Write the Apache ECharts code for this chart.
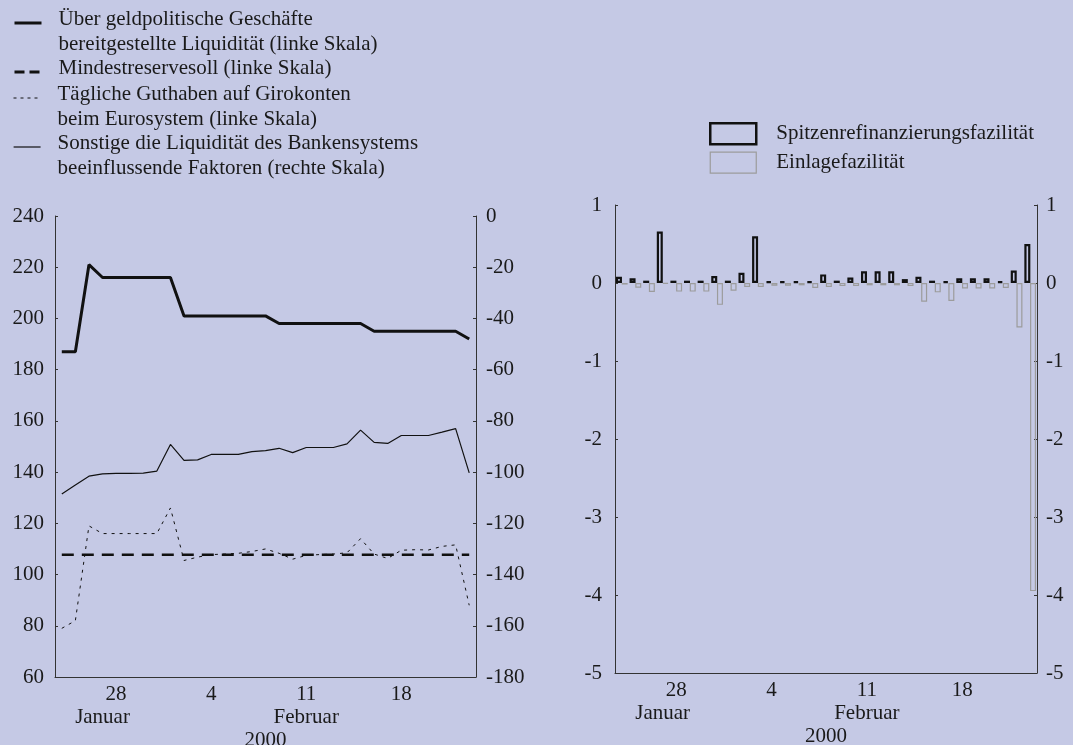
<!DOCTYPE html>
<html>
<head>
<meta charset="utf-8">
<script src="https://cdn.jsdelivr.net/npm/echarts@6/dist/echarts.min.js"></script>
<style>
    html, body { margin: 0; padding: 0; background: #c5c9e5; }
    #chart { width: 1073px; height: 745px; }
</style>
</head>
<body>
<div id="chart"></div>
<script>
// Mindestreserve-Erfüllungsperiode 24. Januar bis 23. Februar 2000
const days = ['24', '25', '26', '27', '28', '29', '30', '31',
    '1', '2', '3', '4', '5', '6', '7', '8', '9', '10', '11', '12', '13', '14', '15', '16',
    '17', '18', '19', '20', '21', '22', '23'];
const shownDays = ['28', '4', '11', '18'];
const monthLabels = ['', '', '', 'Januar', '', '', '', '', '', '', '', '', '', '', '', '', '', '', 'Februar',
    '', '', '', '', '', '', '', '', '', '', '', ''];
const yearLabel = '2000';

// linke Grafik (linke Skala)
const liquiditaet = [187, 187, 221, 216, 216, 216, 216, 216, 216, 201, 201, 201, 201, 201, 201, 201,
    198, 198, 198, 198, 198, 198, 198, 195, 195, 195, 195, 195, 195, 195, 192];
const mindestreserve = [107.7, 107.7, 107.7, 107.7, 107.7, 107.7, 107.7, 107.7, 107.7, 107.7, 107.7,
    107.7, 107.7, 107.7, 107.7, 107.7, 107.7, 107.7, 107.7, 107.7, 107.7, 107.7, 107.7, 107.7, 107.7,
    107.7, 107.7, 107.7, 107.7, 107.7, 107.7];
const guthaben = [79, 82, 119, 116, 116, 116, 116, 116, 126, 105.5, 106.8, 107.8, 108, 108.3, 109, 110,
    108.3, 106, 107.5, 107.8, 108, 108.5, 114, 108, 106.3, 109.5, 109.7, 109.6, 111, 111.6, 88];
// rechte Skala
const sonstige = [-108.5, -105, -101.6, -100.7, -100.5, -100.5, -100.4, -99.6, -89.2, -95.4, -95.2,
    -93.1, -93.1, -93.1, -92, -91.6, -90.7, -92.4, -90.4, -90.4, -90.4, -89, -83.6, -88.4, -88.8,
    -85.7, -85.7, -85.7, -84.4, -83, -100.3];

// rechte Grafik
const spitzen = [0.08, 0.06, 0.03, 0.66, 0.03, 0.03, 0.03, 0.09, 0.03, 0.13, 0.60, 0.02, 0.02, 0.02,
    0.02, 0.11, 0.03, 0.07, 0.15, 0.15, 0.15, 0.05, 0.08, 0.03, 0.02, 0.06, 0.06, 0.06, 0.02, 0.16, 0.50];
const einlage = [-0.02, -0.06, -0.115, -0.01, -0.11, -0.11, -0.11, -0.28, -0.10, -0.05, -0.05, -0.035,
    -0.035, -0.03, -0.065, -0.05, -0.04, -0.04, -0.03, -0.03, -0.03, -0.04, -0.24, -0.12, -0.23,
    -0.07, -0.07, -0.07, -0.065, -0.57, -3.95];

const names = {
    liq: 'Über geldpolitische Geschäfte\nbereitgestellte Liquidität (linke Skala)',
    mr: 'Mindestreservesoll (linke Skala)',
    gut: 'Tägliche Guthaben auf Girokonten\nbeim Eurosystem (linke Skala)',
    son: 'Sonstige die Liquidität des Bankensystems\nbeeinflussende Faktoren (rechte Skala)',
    spitz: 'Spitzenrefinanzierungsfazilität',
    einl: 'Einlagefazilität'
};

const font = 'Liberation Serif, Times New Roman, serif';
const textColor = '#1a1a1a';
const axisColor = '#333';
const fs = 21;
const txt = { fontFamily: font, fontSize: fs, color: textColor };

// the legend icon sits next to the first line of a two-line label
function lineLegend(name, top, lineStyle) {
    return {
        data: [name],
        left: 13,
        top: top,
        orient: 'vertical',
        padding: 0,
        itemWidth: 27,
        itemHeight: 14,
        selectedMode: false,
        itemStyle: { color: 'transparent', borderWidth: 0 },
        lineStyle: lineStyle || {},
        formatter: (n) => {
            const parts = n.split('\n');
            return parts.length > 1 ? `{f|${parts[0]}}\n{s|${parts[1]}}` : `{o|${parts[0]}}`;
        },
        textStyle: {
            ...txt,
            padding: [0, 0, 0, 12],
            rich: {
                f: { ...txt, lineHeight: 42, verticalAlign: 'bottom' },
                s: { ...txt, lineHeight: 29 },
                o: { ...txt, lineHeight: 29, verticalAlign: 'top' }
            }
        }
    };
}

function xAxes(gridIndex) {
    return [
        {
            gridIndex: gridIndex,
            type: 'category',
            data: days,
            boundaryGap: true,
            axisLine: { onZero: false, lineStyle: { color: axisColor, width: 1 } },
            axisTick: { inside: true, length: 4, interval: 0, lineStyle: { color: axisColor } },
            axisLabel: { interval: (i, v) => shownDays.includes(v), margin: 7, ...txt },
            name: yearLabel,
            nameLocation: 'middle',
            nameGap: 53,
            nameTextStyle: txt
        },
        {
            gridIndex: gridIndex,
            type: 'category',
            data: days,
            position: 'bottom',
            offset: 23,
            axisLine: { show: false },
            axisTick: { show: false },
            axisLabel: { interval: 0, formatter: (v, i) => monthLabels[i], margin: 7, ...txt }
        },
        {
            // Monatswechsel
            gridIndex: gridIndex,
            type: 'category',
            data: days,
            position: 'bottom',
            axisLine: { show: false },
            axisLabel: { show: false },
            axisTick: { inside: true, length: 8, interval: (i) => i === 8, lineStyle: { color: axisColor } }
        }
    ];
}

function yAxis(gridIndex, pos, min, max, interval, margin) {
    return {
        gridIndex: gridIndex,
        type: 'value',
        position: pos,
        min: min,
        max: max,
        interval: interval,
        splitLine: { show: false },
        axisLine: { show: true, onZero: false, lineStyle: { color: axisColor, width: 1 } },
        axisTick: { show: true, inside: true, length: 3, lineStyle: { color: axisColor } },
        axisLabel: { margin: margin, ...txt }
    };
}

const chart = echarts.init(document.getElementById('chart'));

chart.setOption({
    animation: false,
    backgroundColor: '#c5c9e5',
    legend: [
        lineLegend(names.liq, 8.5, { width: 3 }),
        lineLegend(names.mr, 57.5, { width: 3, type: [10, 5] }),
        lineLegend(names.gut, 83.5, { width: 1, type: [3, 4] }),
        lineLegend(names.son, 132.5, { width: 1.2 }),
        {
            data: [
                { name: names.spitz, itemStyle: { borderWidth: 2.5 } },
                { name: names.einl, itemStyle: { borderWidth: 1.2 } }
            ],
            left: 709,
            top: 122,
            orient: 'vertical',
            padding: 0,
            itemGap: 6,
            itemWidth: 46,
            itemHeight: 21,
            icon: 'rect',
            selectedMode: false,
            textStyle: { ...txt, padding: [0, 0, 0, 15] }
        }
    ],
    grid: [
        { left: 55, top: 216, width: 421, height: 461, outerBoundsMode: 'none' },
        { left: 615, top: 205, width: 422, height: 468, outerBoundsMode: 'none' }
    ],
    xAxis: [...xAxes(0), ...xAxes(1)],
    yAxis: [
        yAxis(0, 'left', 60, 240, 20, 11),
        yAxis(0, 'right', -180, 0, 20, 10),
        yAxis(1, 'left', -5, 1, 1, 13),
        yAxis(1, 'right', -5, 1, 1, 9)
    ],
    series: [
        {
            name: names.liq, type: 'line', xAxisIndex: 0, yAxisIndex: 0, color: '#111',
            data: liquiditaet, symbol: 'none', silent: true,
            lineStyle: { color: '#111', width: 3 }
        },
        {
            name: names.mr, type: 'line', xAxisIndex: 0, yAxisIndex: 0, color: '#111',
            data: mindestreserve, symbol: 'none', silent: true,
            lineStyle: { color: '#111', width: 2.5, type: [12, 8] }
        },
        {
            name: names.gut, type: 'line', xAxisIndex: 0, yAxisIndex: 0, color: '#111',
            data: guthaben, symbol: 'none', silent: true,
            lineStyle: { color: '#111', width: 1, type: [3, 5] }
        },
        {
            name: names.son, type: 'line', xAxisIndex: 0, yAxisIndex: 1, color: '#111',
            data: sonstige, symbol: 'none', silent: true,
            lineStyle: { color: '#111', width: 1.2 }
        },
        {
            name: names.spitz, type: 'bar', xAxisIndex: 3, yAxisIndex: 2,
            data: spitzen, barWidth: 6, barGap: '-5%', silent: true,
            itemStyle: { color: 'transparent', borderColor: '#111', borderWidth: 2.2 }
        },
        {
            name: names.einl, type: 'bar', xAxisIndex: 3, yAxisIndex: 2,
            data: einlage, barWidth: 6, barGap: '-5%', silent: true,
            itemStyle: { color: 'transparent', borderColor: '#9c9c9c', borderWidth: 1.2 }
        }
    ]
});
</script>
</body>
</html>
